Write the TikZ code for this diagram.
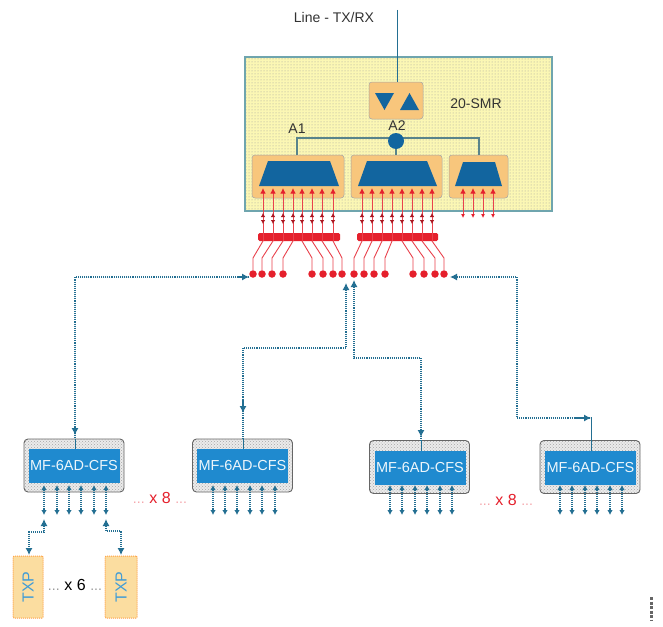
\documentclass[tikz,border=0pt]{standalone}
\usepackage{fontspec}
\setmainfont{Liberation Sans}
\usetikzlibrary{arrows.meta,patterns,calc}
\definecolor{smryellow}{HTML}{FBF7B4}
\definecolor{smredge}{HTML}{6FA5AE}
\definecolor{orangebox}{HTML}{F8C67C}
\definecolor{deepblue}{HTML}{12659F}
\definecolor{modblue}{HTML}{1F8ACF}
\definecolor{linkblue}{HTML}{236F92}
\definecolor{redsig}{HTML}{E5202C}
\definecolor{txpfill}{HTML}{FBDDA0}
\tikzset{
  x=1pt,y=-1pt,
  every node/.style={inner sep=0pt,outer sep=0pt,font=\fontsize{14}{16}\selectfont,text=black!80},
  smrbox/.style={draw=smredge,line width=1.8pt,preaction={fill=smryellow},pattern=dots,pattern color=black!38},
  orbox/.style={draw=black!35,line width=.5pt,fill=orangebox,rounded corners=3pt},
  modouter/.style={draw=black!60,line width=.9pt,rounded corners=4pt,preaction={fill=black!8},pattern=crosshatch dots,pattern color=black!35},
  modinner/.style={fill=modblue,text=white!92!modblue,font=\fontsize{14.5}{16}\selectfont},
  txpbox/.style={draw=orange!75,densely dotted,line width=1pt,fill=txpfill,rounded corners=1pt},
  link/.style={draw=linkblue,densely dotted,line width=1.1pt},
  solidlink/.style={draw=linkblue,line width=.8pt},
  redline/.style={draw=redsig!85,line width=.9pt},
  sigdot/.style={circle,fill=redsig,minimum size=7.5pt},
  sigbar/.style={fill=redsig,rounded corners=1.5pt},
  bigtip/.tip={Latex[length=7pt,width=7pt,color=linkblue]},
  smalltip/.tip={Latex[length=5pt,width=5.5pt,color=linkblue]},
}
\newcommand{\mult}[2]{{\color{#2!40}...}\,\,{\fontsize{16}{18}\selectfont\color{#2} x #1}\,\,{\color{#2!40}...}}
\begin{document}
\begin{tikzpicture}
\useasboundingbox (0,0) rectangle (663,626);
\fill[white] (0,0) rectangle (663,626);

% 20-SMR card
\node[smrbox,minimum width=307pt,minimum height=154pt] (smr) at (398.5,134) {};
\node (smrlabel) at (476,104) {20-SMR};
\node (linelabel) at (334,17) {Line - TX/RX};
\coordinate (linetop) at (397,10);

% splitter
\node[orbox,minimum width=54pt,minimum height=37pt] (split) at (396,100.5) {};
\draw[solidlink] (linetop) -- (split.north -| linetop);
\fill[deepblue] (375,93) -- (394,93) -- (384.5,110) -- cycle;
\fill[deepblue] (400,110) -- (419,110) -- (409.5,93) -- cycle;

% WSS boxes
\node[orbox,minimum width=92pt,minimum height=43pt] (wa) at (298,176.5) {};
\node[orbox,minimum width=91pt,minimum height=43pt] (wb) at (396.5,176.5) {};
\node[orbox,minimum width=59pt,minimum height=43pt] (wc) at (478.5,176.5) {};
\fill[deepblue] (268,161) -- (330,161) -- (339,186) -- (259,186) -- cycle;
\fill[deepblue] (367,161) -- (427,161) -- (437,186) -- (358,186) -- cycle;
\fill[deepblue] (463,162) -- (495,162) -- (502,186) -- (455,186) -- cycle;

% hub
\coordinate (busl) at (297,138);
\coordinate (busr) at (479,138);
\draw[draw=smredge!80!black,line width=1.1pt] (wa.north -| busl) -- (busl) -- (busr) -- (wc.north -| busr);
\node[circle,fill=deepblue,minimum size=16pt] (hub) at (396,141) {};
\draw[draw=smredge!80!black,line width=1.1pt] (hub) -- (wb.north -| hub);
\node (aone) at (297,129) {A1};
\node (atwo) at (397,126) {A2};

% red bars
\node[sigbar,minimum width=82pt,minimum height=8pt] (bara) at (299,237) {};
\node[sigbar,minimum width=81pt,minimum height=8pt] (barb) at (397.5,237) {};

% red lines
\foreach \i/\xa/\xb in {1/263/253,2/273/262,3/283/272,4/293/283,5/302/312,6/312/323,7/322/333,8/333/342,
                        9/362/354,10/372/364,11/382/374,12/392/385,13/402/413,14/412/424,15/422/435,16/432/444}{
  \node[sigdot] (d\i) at (\xb,274) {};
  \coordinate (top\i) at (\xa,188);
  \coordinate (low\i) at (\xa,241);
  \coordinate (bend\i) at (\xb,258);
  \fill[redsig] (\xa,236) circle (3pt);
  \draw[redline,{Latex[length=5.5pt,width=5.5pt,color=redsig]}-] (top\i) -- (low\i);
  \draw[redline] (low\i) -- (bend\i) -- (d\i);
  \draw[redline,{Latex[length=4pt,width=4.5pt,color=redsig!75!black]}-{Latex[length=4pt,width=4.5pt,color=redsig!75!black]}] (\xa,213) -- (\xa,224);
}
% third group
\foreach \i/\xa in {1/463,2/473,3/483,4/493}{
  \coordinate (ct\i) at (\xa,188);
  \coordinate (cb\i) at (\xa,218);
  \draw[redline,{Latex[length=5.5pt,width=5.5pt,color=redsig]}-{Latex[length=4pt,width=4pt,color=redsig]}] (ct\i) -- (cb\i);
}

% MF-6AD-CFS modules
\foreach \n/\cx/\cy/\ix/\iy in {m1/74/465.5/74/465.5, m2/242.5/465.5/242.5/465.5, m3/419.5/467/420/467.5, m4/590/467/590.5/467.5}{
  \node[modouter,minimum width=100pt,minimum height=53pt] (\n) at (\cx,\cy) {};
  \node[modinner,minimum width=91pt,minimum height=34pt] (\n i) at (\ix,\iy) {MF-6AD-CFS};
}

% drop-side arrows
\foreach \m/\a/\b/\c/\d/\e/\f in {1/44/57/69/81/94/106, 2/213/225/237/250/262/275, 3/390/402/415/427/440/452, 4/560/572/585/597/610/622}{
  \foreach \k/\p in {1/\a,2/\b,3/\c,4/\d,5/\e,6/\f}{
    \coordinate (a\m\k) at (\p,485);
    \coordinate (z\m\k) at (\p,515);
    \draw[link,smalltip-smalltip] (a\m\k) -- (z\m\k);
  }
}

% connectors to dots
\coordinate (c1end) at (249,277);
\coordinate (c1corner) at (75,277);
\draw[link] (c1end) -- (c1corner) -- (75,439);
\draw[link,-bigtip] (235,277) -- (c1end);
\draw[link,-bigtip] (75,420) -- (75,435);

\coordinate (c2end) at (346,283);
\coordinate (c2a) at (346,348);
\coordinate (c2b) at (243,348);
\draw[link,bigtip-] (c2end) -- (c2a) -- (c2b) -- (243,439);
\draw[link,-bigtip] (243,400) -- (243,413);

\coordinate (c3end) at (354,280);
\coordinate (c3a) at (354,358);
\coordinate (c3b) at (421,358);
\draw[link,bigtip-] (c3end) -- (c3a) -- (c3b) -- (421,441);
\draw[link,-bigtip] (421,425) -- (421,437);

\coordinate (c4end) at (450,277);
\coordinate (c4a) at (517,277);
\coordinate (c4b) at (517,418);
\coordinate (c4c) at (591,418);
\draw[link,bigtip-] (c4end) -- (c4a) -- (c4b) -- (c4c);
\draw[link,-bigtip] (575,418) -- (c4c);
\draw[solidlink] (c4c) -- (m4.north -| c4c);

% short stems on modules
\draw[solidlink] (75,439) -- (m1i.north -| 75,439);
\draw[solidlink] (243,439) -- (m2i.north -| 243,439);
\draw[solidlink] (421,441) -- (m3i.north -| 421,441);
\draw[solidlink] (591,441) -- (m4i.north -| 591,441);

% TXP
\node[txpbox,minimum width=30pt,minimum height=62pt] (txpa) at (28,587) {};
\node[txpbox,minimum width=32pt,minimum height=62pt] (txpb) at (121,587) {};
\node[rotate=90,text=modblue!85,font=\fontsize{16}{18}\selectfont] (txpal) at (28,587) {TXP};
\node[rotate=90,text=modblue!85,font=\fontsize{16}{18}\selectfont] (txpbl) at (121,587) {TXP};
\coordinate (ta) at (44,519);
\coordinate (tab) at (44,532);
\coordinate (tac) at (29,532);
\coordinate (tb) at (106,519);
\coordinate (tbb) at (106,531);
\coordinate (tbc) at (121,531);
\draw[link,bigtip-bigtip] (ta) -- (tab) -- (tac) -- (29,555);
\draw[link,bigtip-bigtip] (tb) -- (tbb) -- (tbc) -- (121,555);

% multiplicity labels
\node (xsix) at (75,585) {\mult{6}{black}};
\node (xeighta) at (160,498) {\mult{8}{redsig}};
\node (xeightb) at (506,500) {\mult{8}{redsig}};

% illegible figure mark at the lower right
\draw[black!60,line width=3pt,dash pattern=on 3pt off 1.5pt] (651,597) -- (651,620);
\end{tikzpicture}
\end{document}
